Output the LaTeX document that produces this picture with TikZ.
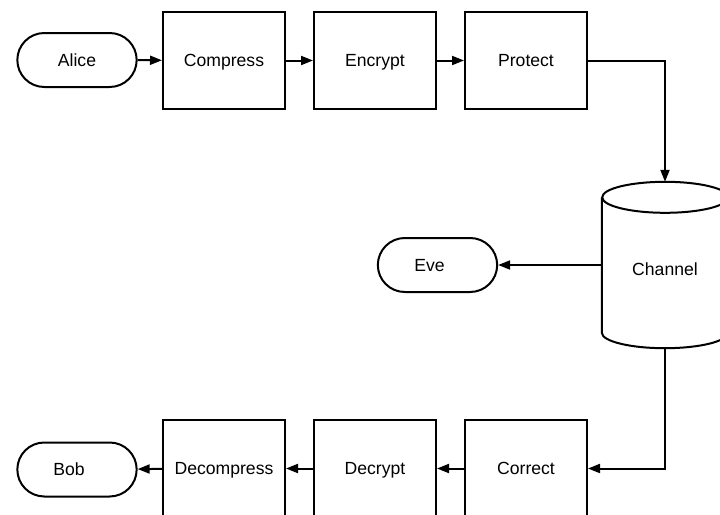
\documentclass[tikz,border=0pt]{standalone}
\usepackage{fontspec}
\setmainfont{Liberation Sans}
\usetikzlibrary{arrows.meta, positioning, shapes.geometric, shapes.misc}
\tikzset{
  box/.style={draw, line width=2pt, minimum width=122pt, minimum height=97pt,
    text height=12.6pt, text depth=0pt},
  term/.style={draw, rounded rectangle, line width=2pt, minimum width=126pt, minimum height=54pt,
    text height=12.6pt, text depth=0pt},
  chan/.style={minimum width=126pt, minimum height=166pt, text height=20.6pt, text depth=0pt},
  cyl/.style={line width=2pt, line join=round},
  arr/.style={-{Triangle[length=12pt, width=9pt]}, line width=2pt},
}

\begin{document}
\begin{tikzpicture}[x=1pt, y=-1pt, node distance=151pt, on grid, font=\fontsize{17.6}{21}\selectfont]
    \useasboundingbox (0,0) rectangle (720,514);
    \clip (0,0) rectangle (720,514);
    % sender side
    \node[term] (alice) at (77,60) {Alice};
    \node[box] (compress) at (224,60.5) {Compress};
    \node[box, right=of compress] (encrypt) {Encrypt};
    \node[box, right=of encrypt] (protect) {Protect};
    % channel and eavesdropper
    \node[chan] (channel) at (665,265) {Channel};
    \draw[cyl] ([yshift=-15.5pt]channel.north west) -- ([yshift=15.5pt]channel.south west)
      arc[start angle=180, end angle=360, x radius=63pt, y radius=15.5pt]
      -- ([yshift=-15.5pt]channel.north east)
      arc[start angle=0, end angle=360, x radius=63pt, y radius=15.5pt];
    \node[term] (eve) at (437.5,265) {Eve\kern16pt};
    % receiver side
    \node[box] (correct) at (526,468.5) {Correct};
    \node[box, left=of correct] (decrypt) {Decrypt};
    \node[box, left=of decrypt] (decompress) {Decompress};
    \node[term] (bob) at (77,469.5) {Bob\kern16pt};
    \draw[arr] (alice) -- (compress);
    \draw[arr] (compress) -- (encrypt);
    \draw[arr] (encrypt) -- (protect);
    \draw[arr] (protect.east) -| (channel.north);
    \draw[arr] (channel.west) -- (eve.east);
    \draw[arr] (channel.south) |- (correct.east);
    \draw[arr] (correct) -- (decrypt);
    \draw[arr] (decrypt) -- (decompress);
    \draw[arr] (decompress) -- (bob);
\end{tikzpicture}
\end{document}
